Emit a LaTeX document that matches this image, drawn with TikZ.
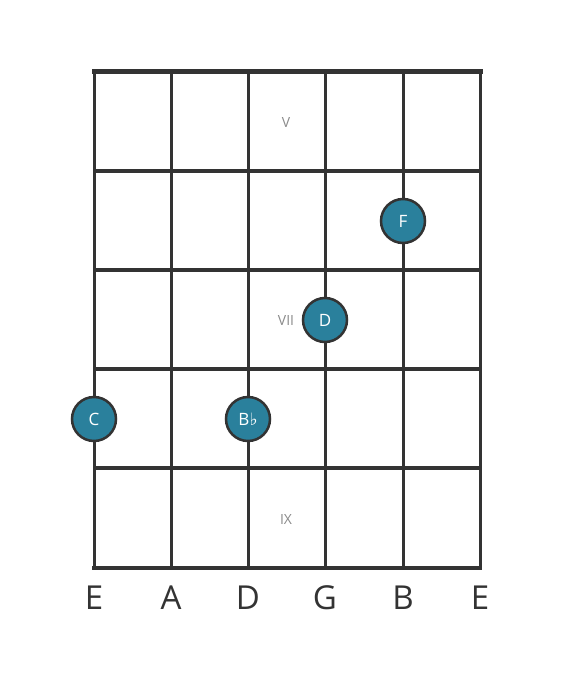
\documentclass[tikz,border=0pt]{standalone}
\usepackage{fontspec}
\setmainfont{Open Sans}
\newfontfamily\symfont{DejaVu Sans}
\usepackage{xcolor}
\usepackage{tikz}
\usetikzlibrary{positioning,calc}
\definecolor{gridgray}{HTML}{333333}
\definecolor{notefill}{HTML}{2A809C}
\definecolor{fretnum}{HTML}{8A8A8A}
\tikzstyle{note}= [circle, draw=gridgray, line width=2.5pt, fill=notefill, inner sep=0pt, minimum size=44pt, text=white, font=\fontsize{17}{17}\selectfont]
\tikzstyle{strname}= [text=gridgray, font=\fontsize{33}{33}\selectfont]
\tikzstyle{fretno}= [text=fretnum, font=\fontsize{14}{14}\selectfont]

\begin{document}
\begin{tikzpicture}[x=1pt, y=-1pt]
				\useasboundingbox (0,0) rectangle (560,682);
				% strings
				\coordinate (s1t) at (94, 72);  \coordinate (s1b) at (94, 568);
				\coordinate (s2t) at (171, 72); \coordinate (s2b) at (171, 568);
				\coordinate (s3t) at (248, 72); \coordinate (s3b) at (248, 568);
				\coordinate (s4t) at (325, 72); \coordinate (s4b) at (325, 568);
				\coordinate (s5t) at (403, 72); \coordinate (s5b) at (403, 568);
				\coordinate (s6t) at (480, 72); \coordinate (s6b) at (480, 568);
				\draw[gridgray, line width=3pt] (s1t) -- (s1b);
				\draw[gridgray, line width=3pt] (s2t) -- (s2b);
				\draw[gridgray, line width=3pt] (s3t) -- (s3b);
				\draw[gridgray, line width=3pt] (s4t) -- (s4b);
				\draw[gridgray, line width=3pt] (s5t) -- (s5b);
				\draw[gridgray, line width=3pt] (s6t) -- (s6b);
				% frets
				\coordinate (f1l) at (94, 171); \coordinate (f1r) at (480, 171);
				\coordinate (f2l) at (94, 270); \coordinate (f2r) at (480, 270);
				\coordinate (f3l) at (94, 369); \coordinate (f3r) at (480, 369);
				\coordinate (f4l) at (94, 468); \coordinate (f4r) at (480, 468);
				\draw[gridgray, line width=5pt, line cap=rect] (s1t) -- (s6t);
				\draw[gridgray, line width=4pt] (f1l) -- (f1r);
				\draw[gridgray, line width=4pt] (f2l) -- (f2r);
				\draw[gridgray, line width=4pt] (f3l) -- (f3r);
				\draw[gridgray, line width=4pt] (f4l) -- (f4r);
				\draw[gridgray, line width=4pt, line cap=rect] (s1b) -- (s6b);
				% fret numbers
				\node[fretno] (v) at (286, 123) {V};
				\node[fretno] (vii) at (286, 321) {VII};
				\node[fretno] (ix) at (286, 519) {IX};
				% notes
				\node[note] (nF) at (403, 221) {F};
				\node[note] (nD) at (325, 320) {D};
				\node[note] (nC) at (94, 419) {C};
				\node[note] (nBb) at (248, 419) {B{\symfont\fontsize{17}{17}\selectfont ♭}};
				% string names
				\node[strname] (e1) at (94, 598) {E};
				\node[strname] (a) at (171, 598) {A};
				\node[strname] (d) at (248, 598) {D};
				\node[strname] (g) at (325, 598) {G};
				\node[strname] (b) at (403, 598) {B};
				\node[strname] (e2) at (480, 598) {E};
			\end{tikzpicture}
\end{document}
